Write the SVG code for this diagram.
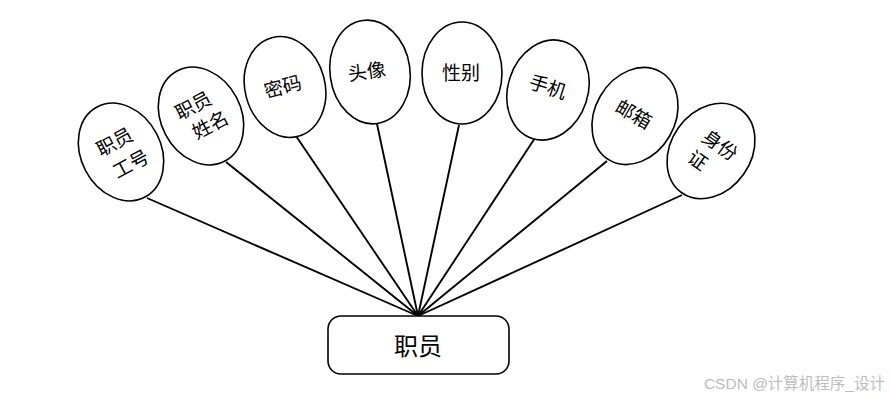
<svg xmlns="http://www.w3.org/2000/svg" width="890" height="400" viewBox="0 0 890 400">
<style>
.e{fill:#fff;stroke:#000;stroke-width:1.6}
.t{font-family:"Noto Sans CJK SC",sans-serif;font-size:19px;fill:#000}
.c{stroke:#000;stroke-width:1.9;fill:none}
</style>
<rect width="890" height="400" fill="#fff"/>
<g id="connectors">
<line class="c" x1="147" y1="198" x2="418" y2="316"/>
<line class="c" x1="226" y1="162" x2="418" y2="316"/>
<line class="c" x1="296" y1="136" x2="418" y2="316"/>
<line class="c" x1="377" y1="124" x2="418" y2="316"/>
<line class="c" x1="459" y1="125" x2="418" y2="316"/>
<line class="c" x1="535" y1="138" x2="418" y2="316"/>
<line class="c" x1="607" y1="161" x2="418" y2="316"/>
<line class="c" x1="682" y1="195" x2="418" y2="316"/>
</g>
<g id="n1" transform="translate(121,152) rotate(-28)">
<ellipse class="e" rx="40" ry="51"/>
<text class="t" x="-20" y="-5">职员</text>
<text class="t" x="-16" y="22">工号</text>
</g>
<g id="n2" transform="translate(201,116) rotate(-28)">
<ellipse class="e" rx="40" ry="51"/>
<text class="t" x="-21" y="-6">职员</text>
<text class="t" x="-15" y="19">姓名</text>
</g>
<g id="n3" transform="translate(285,87) rotate(-15)">
<ellipse class="e" rx="40" ry="51"/>
<text class="t" x="-21" y="6">密码</text>
</g>
<g id="n4" transform="translate(370,72) rotate(-8)">
<ellipse class="e" rx="40" ry="52"/>
<text class="t" x="-22" y="6">头像</text>
</g>
<g id="n5" transform="translate(462,73) rotate(0)">
<ellipse class="e" rx="40" ry="51"/>
<text class="t" x="-20" y="7">性别</text>
</g>
<g id="n6" transform="translate(548,90) rotate(18)">
<ellipse class="e" rx="40" ry="51"/>
<text class="t" x="-20" y="4">手机</text>
</g>
<g id="n7" transform="translate(635,116) rotate(30)">
<ellipse class="e" rx="40" ry="51"/>
<text class="t" x="-21" y="6">邮箱</text>
</g>
<g id="n8" transform="translate(711,151) rotate(35)">
<ellipse class="e" rx="40" ry="51"/>
<text class="t" x="-15" y="-3">身份</text>
<text class="t" x="-15" y="22">证</text>
</g>
<g id="n0">
<rect x="328" y="316" width="181" height="58" rx="13" fill="#fff" stroke="#000" stroke-width="1.6"/>
<text x="418" y="355" text-anchor="middle" style="font-family:'Noto Sans CJK SC',sans-serif;font-size:24px">职员</text>
</g>
<text x="885" y="389" text-anchor="end" style="font-family:'Liberation Sans','Noto Sans CJK SC',sans-serif;font-size:15.5px;fill:#bdbdbd">CSDN @计算机程序_设计</text>
</svg>
